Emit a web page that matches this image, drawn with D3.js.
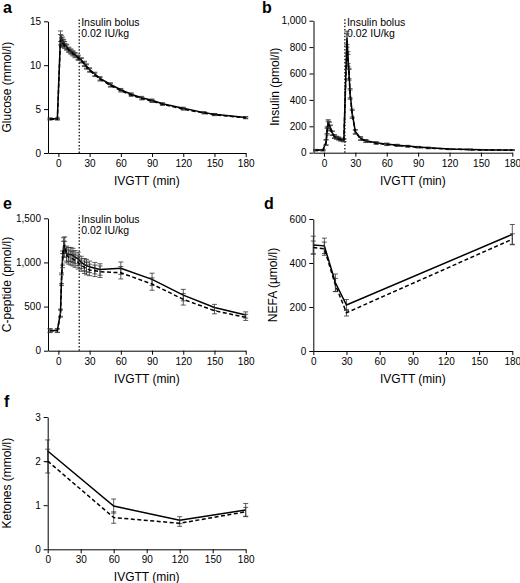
<!DOCTYPE html>
<html><head><meta charset="utf-8">
<script src="https://cdn.jsdelivr.net/npm/d3@7"></script>
<style>
body{margin:0;background:#fff;}
svg{display:block;font-family:"Liberation Sans",Arial,Helvetica,sans-serif;}
.axis text{font-size:10px;fill:#000;}
.axis path,.axis line{stroke:#000;stroke-width:1;}
</style></head><body>
<svg id="c" width="520" height="583"></svg>
<script>
// ---------- data ----------
const xTicks = [0, 30, 60, 90, 120, 150, 180];

const glucoseTimes = [-8,-1,2,3,4,5,6,8,10,12,14,16,19,22,25,27,30,35,40,50,60,70,80,90,100,120,140,150,180];
const glucoseSolid = [3.9,3.9,13.3,12.9,12.8,12.6,12.4,12.1,11.8,11.6,11.4,11.2,10.9,10.6,10.2,9.9,9.5,9.0,8.5,7.8,7.2,6.7,6.3,6.0,5.6,5.1,4.6,4.4,4.05];
const glucoseDashed = [3.85,3.85,12.9,12.6,12.5,12.4,12.2,12.0,11.7,11.5,11.3,11.1,10.8,10.5,10.1,9.8,9.4,8.9,8.4,7.7,7.1,6.6,6.2,5.9,5.55,5.0,4.55,4.35,4.0];
const glucoseErr = [0.1,0.1,0.6,0.5,0.4,0.35,0.3,0.3,0.25,0.25,0.25,0.25,0.25,0.25,0.25,0.25,0.2,0.2,0.2,0.2,0.15,0.15,0.15,0.15,0.12,0.12,0.1,0.1,0.1];
const glucoseTicks = [0, 5, 10, 15];

const insulinTimes = [-8,-1,2,3,4,5,6,8,10,12,14,16,19,22,23,24,25,27,30,35,40,50,60,70,80,90,100,120,140,150,160,180];
const insulinSolid = [20,20,80,170,225,210,190,150,125,115,110,100,95,870,720,600,450,300,160,110,90,75,65,57,50,43,37,28,24,22,21,20];
const insulinDashed = [18,18,75,160,215,205,185,145,120,112,105,98,92,850,700,590,440,290,155,105,88,72,62,55,48,41,35,27,23,21,20,19];
const insulinErr = [5,5,20,25,25,25,20,15,12,10,10,10,10,50,45,40,35,30,15,12,10,8,8,7,6,5,5,4,3,3,3,3];
const insulinTicks = [0, 200, 400, 600, 800, 1000];

const cpepTimes = [-8,-1,2,3,4,5,6,8,10,12,14,16,19,22,25,27,30,35,40,60,90,120,150,180];
const cpepSolid = [230,230,430,820,1050,1190,1150,1100,1090,1090,1080,1060,1040,1000,975,965,950,935,920,935,808,630,490,405];
const cpepDashed = [225,225,420,800,1020,1150,1200,1080,1060,1050,1040,1020,1000,970,945,930,915,905,895,883,755,582,453,378];
const cpepErr = [20,20,40,60,80,90,90,85,80,80,80,75,75,70,70,70,65,65,65,70,70,65,35,35];
const cpepTicks = [0, 500, 1000, 1500];

const nefaTimes = [0, 10, 20, 30, 180];
const nefaSolid = [482, 478, 310, 209, 530];
const nefaDashed = [470, 465, 300, 174, 508];
const nefaErrSolid = [40, 35, 40, 25, 45];
const nefaErrDashed = [30, 30, 30, 15, 25];
const nefaTicks = [0, 200, 400, 600];

const ketTimes = [0, 60, 120, 180];
const ketSolid = [2.23, 0.98, 0.66, 0.89];
const ketDashed = [2.0, 0.72, 0.59, 0.85];
const ketErrSolid = [0.25, 0.16, 0.08, 0.15];
const ketErrDashed = [0.27, 0.13, 0.07, 0.1];
const ketTicks = [0, 1, 2, 3];

// ---------- drawing ----------
const svg = d3.select("#c");

function panel(o) {
  const g = svg.append("g");
  const x = d3.scaleLinear().domain(o.xDomain).range(o.xRange);
  const y = d3.scaleLinear().domain(o.yDomain).range(o.yRange);
  const fmt = d3.format(",");

  g.append("g").attr("class", "axis").attr("transform", `translate(0,${o.yRange[0]})`)
    .call(d3.axisBottom(x).tickValues(xTicks).tickSize(4).tickSizeOuter(0).tickPadding(3));
  g.append("g").attr("class", "axis").attr("transform", `translate(${o.xRange[0]},0)`)
    .call(d3.axisLeft(y).tickValues(o.yTicks).tickFormat(fmt).tickSize(4).tickSizeOuter(0).tickPadding(3));

  g.append("text").attr("x", (o.xRange[0] + o.xRange[1]) / 2).attr("y", o.yRange[0] + 32)
    .attr("text-anchor", "middle").attr("font-size", 12).text("IVGTT (min)");
  g.append("text").attr("transform", `translate(${o.yTitleX},${(o.yRange[0] + o.yRange[1]) / 2}) rotate(-90)`)
    .attr("text-anchor", "middle").attr("font-size", 12).text(o.yTitle);
  g.append("text").attr("x", o.letterX).attr("y", o.letterY).attr("font-size", 16)
    .attr("font-weight", "bold").text(o.letter);

  if (o.bolus) {
    const bx = x(20);
    g.append("line").attr("x1", bx).attr("x2", bx).attr("y1", o.yRange[0]).attr("y2", o.yRange[1] - 3)
      .attr("stroke", "#000").attr("stroke-width", 1.2).attr("stroke-dasharray", "1.5,1.8");
    g.append("text").attr("x", bx + 2).attr("y", o.yRange[1] + 5).attr("font-size", 10.5).text("Insulin bolus");
    g.append("text").attr("x", bx + 2).attr("y", o.yRange[1] + 16).attr("font-size", 10.5).text("0.02 IU/kg");
  }

  o.series.forEach(s => {
    const pts = o.times.map((t, i) => ({t, v: s.values[i], e: s.err[i]}));
    const eb = g.append("g").attr("stroke", "#333").attr("stroke-width", 0.8);
    pts.forEach(p => {
      eb.append("line").attr("x1", x(p.t)).attr("x2", x(p.t)).attr("y1", y(p.v - p.e)).attr("y2", y(p.v + p.e));
      [p.v - p.e, p.v + p.e].forEach(v => eb.append("line")
        .attr("x1", x(p.t) - 2.5).attr("x2", x(p.t) + 2.5).attr("y1", y(v)).attr("y2", y(v)));
    });
    g.append("path").datum(pts)
      .attr("fill", "none").attr("stroke", "#000").attr("stroke-width", 1.5)
      .attr("stroke-dasharray", s.dashed ? "4,2.5" : null)
      .attr("d", d3.line().x(d => x(d.t)).y(d => y(d.v)));
  });
}

panel({letter: "a", letterX: 3, letterY: 13, xDomain: [-10, 180], xRange: [48, 245.7],
  yDomain: [0, 15], yRange: [153, 21.3], yTicks: glucoseTicks, yTitle: "Glucose (mmol/l)", yTitleX: 11,
  bolus: true, times: glucoseTimes,
  series: [{values: glucoseSolid, err: glucoseErr}, {values: glucoseDashed, err: glucoseErr, dashed: true}]});

panel({letter: "b", letterX: 262, letterY: 13, xDomain: [-10, 180], xRange: [313.5, 512.3],
  yDomain: [0, 1000], yRange: [152.7, 20.7], yTicks: insulinTicks, yTitle: "Insulin (pmol/l)", yTitleX: 279,
  bolus: true, times: insulinTimes,
  series: [{values: insulinSolid, err: insulinErr}, {values: insulinDashed, err: insulinErr, dashed: true}]});

panel({letter: "e", letterX: 3, letterY: 209, xDomain: [-10, 180], xRange: [48, 245.7],
  yDomain: [0, 1500], yRange: [350.7, 218.3], yTicks: cpepTicks, yTitle: "C-peptide (pmol/l)", yTitleX: 11,
  bolus: true, times: cpepTimes,
  series: [{values: cpepSolid, err: cpepErr}, {values: cpepDashed, err: cpepErr, dashed: true}]});

panel({letter: "d", letterX: 264, letterY: 209, xDomain: [0, 180], xRange: [313.3, 512.3],
  yDomain: [0, 600], yRange: [351, 219], yTicks: nefaTicks, yTitle: "NEFA (\u00b5mol/l)", yTitleX: 277,
  bolus: false, times: nefaTimes,
  series: [{values: nefaSolid, err: nefaErrSolid}, {values: nefaDashed, err: nefaErrDashed, dashed: true}]});

panel({letter: "f", letterX: 4, letterY: 407, xDomain: [0, 180], xRange: [47.7, 245.7],
  yDomain: [0, 3], yRange: [549.3, 417], yTicks: ketTicks, yTitle: "Ketones (mmol/l)", yTitleX: 11,
  bolus: false, times: ketTimes,
  series: [{values: ketSolid, err: ketErrSolid}, {values: ketDashed, err: ketErrDashed, dashed: true}]});
</script>
</body></html>
